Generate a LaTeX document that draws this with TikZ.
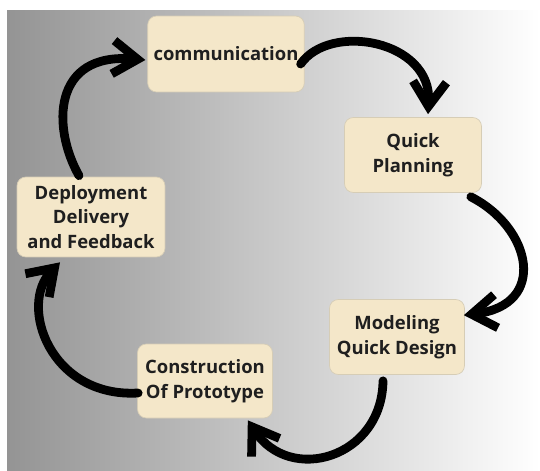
\documentclass[tikz,border=0pt]{standalone}
\usepackage{fontspec}
\setmainfont{Open Sans}
\usetikzlibrary{arrows.meta,calc}
\definecolor{cream}{HTML}{F4E7C9}
\definecolor{creamline}{HTML}{D6CDB6}

\begin{document}
\begin{tikzpicture}[x=0.02cm, y=-0.02cm, >={Straight Barb[length=14pt, width=19pt]},
  box/.style={draw=creamline, fill=cream, rounded corners=5pt, align=center,
    font=\fontsize{10.5}{14}\selectfont\bfseries, text=black!88},
  arr/.style={->, line width=5pt, line cap=round}]

\useasboundingbox (0,0) rectangle (540,470);
\shade [left color=black!42, right color=white] (7,10) rectangle (540,470);

\node [box, minimum width=2.86cm, minimum height=1.52cm] at (226, 54) (comm) {communication};
\node [box, minimum width=2.74cm, minimum height=1.5cm] at (413, 155) (plan) {Quick\\Planning};
\node [box, minimum width=2.96cm, minimum height=1.6cm] at (91, 217) (deploy) {Deployment\\Delivery\\and Feedback};
\node [box, minimum width=2.7cm, minimum height=1.5cm] at (397, 337) (model) {Modeling\\Quick Design};
\node [box, minimum width=2.7cm, minimum height=1.48cm] at (205, 381) (constr) {Construction\\Of Prototype};

\draw [arr] ($(comm.east)+(-4,10)$) .. controls (330,22) and (432,40) .. ($(plan.north)+(15,-3)$);
\draw [arr] ($(plan.south east)+(-11,4)$) .. controls (532,228) and (548,305) .. ($(model.north east)+(-1,16)$);
\draw [arr] ($(model.south)+(-14,6)$) .. controls (382,458) and (290,485) .. ($(constr.south east)+(-25,2)$);
\draw [arr] ($(constr.west)+(1,12)$) .. controls (50,398) and (18,305) .. ($(deploy.south)+(-31,5)$);
\draw [arr] ($(deploy.north)+(-12,-1)$) .. controls (52,128) and (52,52) .. ($(comm.west)+(-2,6)$);

\end{tikzpicture}
\end{document}
